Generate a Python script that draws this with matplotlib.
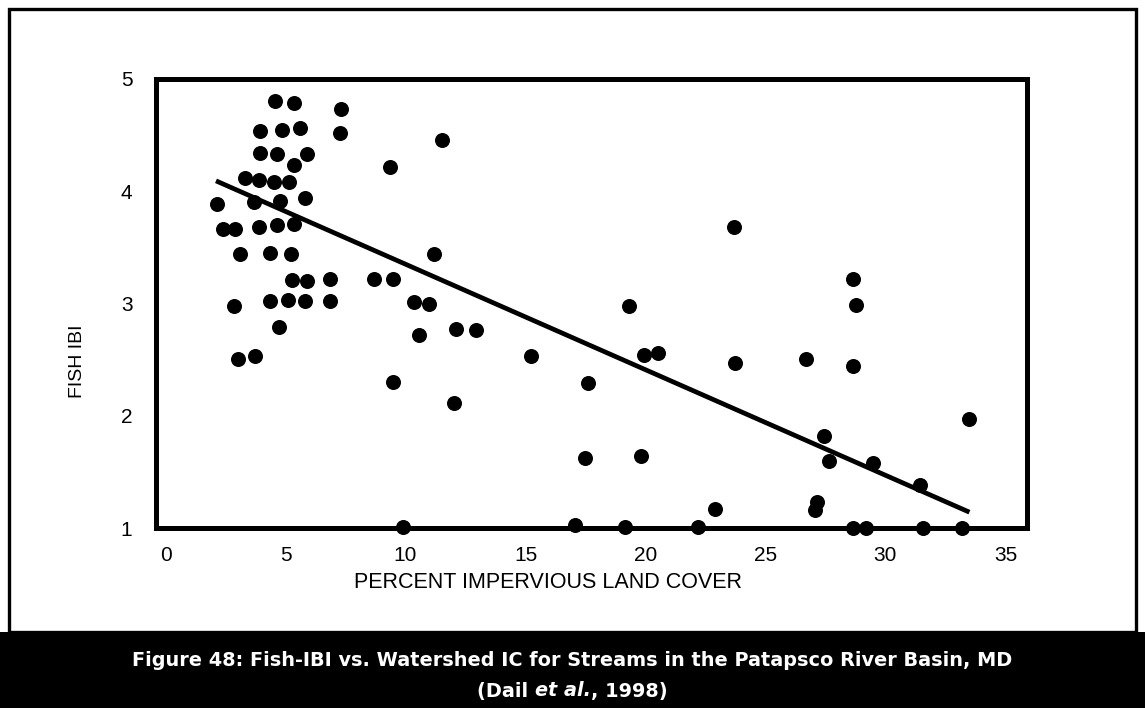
import matplotlib
matplotlib.use("Agg")
import matplotlib.pyplot as plt
from matplotlib.patches import Rectangle

# percent impervious cover of each sampled watershed and its Fish IBI score
ic_pct = [2.13, 2.41, 2.90, 2.87, 3.01, 3.11, 3.32, 3.67, 3.74, 3.88,
          3.88, 3.95, 3.95, 4.34, 4.36, 4.51, 4.55, 4.64, 4.64, 4.73,
          4.78, 4.85, 5.09, 5.13, 5.23, 5.27, 5.34, 5.37, 5.37, 5.59,
          5.83, 5.83, 5.90, 5.90, 6.87, 6.87, 7.26, 7.29, 8.69, 9.35,
          9.47, 9.48, 9.90, 10.36, 10.57, 10.99, 11.19, 11.51, 12.04, 12.10,
          12.92, 15.24, 17.06, 17.48, 17.62, 19.15, 19.31, 19.80, 19.92, 20.54,
          22.19, 22.89, 23.68, 23.75, 26.71, 27.06, 27.13, 27.42, 27.66, 28.63,
          28.63, 28.63, 28.77, 29.19, 29.47, 31.45, 31.56, 33.21, 33.49]
fish_ibi = [3.89, 3.66, 3.66, 2.98, 2.51, 3.44, 4.12, 3.90, 2.53, 4.10,
            3.68, 4.54, 4.34, 3.45, 3.02, 4.08, 4.80, 4.33, 3.70, 2.79,
            3.91, 4.55, 3.03, 4.08, 3.44, 3.21, 3.71, 4.79, 4.23, 4.56,
            3.94, 3.02, 4.33, 3.20, 3.22, 3.02, 4.52, 4.73, 3.22, 4.22,
            3.22, 2.30, 1.01, 3.01, 2.72, 3.00, 3.44, 4.46, 2.11, 2.77,
            2.76, 2.53, 1.03, 1.62, 2.29, 1.01, 2.98, 1.64, 2.54, 2.56,
            1.01, 1.17, 3.68, 2.47, 2.51, 1.16, 1.23, 1.82, 1.60, 3.22,
            2.44, 1.00, 2.99, 1.00, 1.58, 1.38, 1.00, 1.00, 1.97]

# least squares line
fit_x = [2.1, 33.5]
fit_intercept = 4.29
fit_slope = -0.094

x_ticks = [0, 5, 10, 15, 20, 25, 30, 35]
y_ticks = [1, 2, 3, 4, 5]

W, H = 1145, 708
fig = plt.figure(figsize=(W / 100, H / 100), dpi=100)

# outer frame and caption band
fig.patches.append(Rectangle((9 / W, 1 - 632 / H), 1127 / W, 623 / H,
                             transform=fig.transFigure, fill=False,
                             edgecolor="black", linewidth=2.4))
fig.patches.append(Rectangle((0, 0), 1, 76 / H, transform=fig.transFigure,
                             facecolor="black", edgecolor="none"))

ax = fig.add_axes([156 / W, 1 - 528 / H, 871 / W, 449 / H])
ax.plot(ic_pct, fish_ibi, "o", color="black", markersize=10.8,
        markeredgewidth=0, clip_on=False, zorder=3)
ax.plot(fit_x, [fit_intercept + fit_slope * x for x in fit_x],
        color="black", linewidth=3.4, solid_capstyle="butt", zorder=2)

ax.set_xlim(-0.4, 35.9)
ax.set_ylim(1, 5)
ax.set_xticks(x_ticks)
ax.set_yticks(y_ticks)
ax.tick_params(length=0, labelsize=15, pad=13)
ax.tick_params(axis="y", pad=17)
for lbl in ax.get_xticklabels() + ax.get_yticklabels():
    lbl.set_family("Liberation Sans")
for s in ax.spines.values():
    s.set_linewidth(3.6)

fig.text(548 / W, 1 - 583 / H, "PERCENT IMPERVIOUS LAND COVER",
         family="Liberation Sans", fontsize=15.5, ha="center", va="center")
fig.text(78 / W, 1 - 361 / H, "FISH IBI", family="Liberation Sans",
         fontsize=14, rotation=90, ha="center", va="center")

# caption, second line mixes roman and italic
cap_kw = dict(family="DejaVu Sans", fontweight="bold", color="white",
              fontsize=13.9, va="center")
fig.text(0.5, 1 - 660 / H,
         "Figure 48: Fish-IBI vs. Watershed IC for Streams in the Patapsco River Basin, MD",
         ha="center", **cap_kw)
parts = [("(Dail ", "normal"), ("et al.", "italic"), (", 1998)", "normal")]
fig.canvas.draw()
renderer = fig.canvas.get_renderer()
texts = [fig.text(0, 1 - 691 / H, t, style=st, ha="left", **cap_kw) for t, st in parts]
widths = [t.get_window_extent(renderer).width for t in texts]
x = (W - sum(widths)) / 2
for t, w in zip(texts, widths):
    t.set_x(x / W)
    x += w

fig.savefig("out.png", dpi=100)
